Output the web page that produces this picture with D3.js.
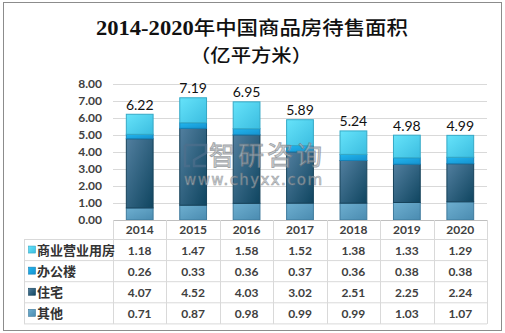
<!DOCTYPE html>
<html><head><meta charset="utf-8">
<script src="https://cdn.jsdelivr.net/npm/d3@7"></script>
<style>
html,body{margin:0;padding:0;background:#fff;}
svg{display:block;}
</style></head>
<body>
<svg id="c" width="505" height="333"></svg>
<script>
const years = ["2014","2015","2016","2017","2018","2019","2020"];
const seriesNames = ["商业营业用房","办公楼","住宅","其他"];
const commercial = [1.18,1.47,1.58,1.52,1.38,1.33,1.29];
const office     = [0.26,0.33,0.36,0.37,0.36,0.38,0.38];
const housing    = [4.07,4.52,4.03,3.02,2.51,2.25,2.24];
const other      = [0.71,0.87,0.98,0.99,0.99,1.03,1.07];
const totals     = [6.22,7.19,6.95,5.89,5.24,4.98,4.99];
const yTicks     = [0,1,2,3,4,5,6,7,8];
const title1a = "2014-2020";
const title1b = "年中国商品房待售面积";
const title2 = "（亿平方米）";

const seriesVals = {"商业营业用房":commercial,"办公楼":office,"住宅":housing,"其他":other};
const stackKeys = ["其他","住宅","办公楼","商业营业用房"];
const colors = {
  "商业营业用房": ["#66e3fa","#3bbde0","#35a9c6"],
  "办公楼": ["#22b6ee","#1592cf","#1482b8"],
  "住宅": ["#527f9f","#0f4560","#16425a"],
  "其他": ["#6eafd0","#4a8bb0","#3f7a9c"]
};
const keyId = {"商业营业用房":"g0","办公楼":"g1","住宅":"g2","其他":"g3"};

const svg = d3.select("#c");
const W = 505, H = 333;
svg.append("rect").attr("x",0).attr("y",0).attr("width",W).attr("height",H).attr("fill","#fff");
svg.append("rect").attr("x",3.5).attr("y",2.5).attr("width",498).attr("height",328)
  .attr("fill","#fff").attr("stroke","#8c8c8c").attr("stroke-width",1);

const defs = svg.append("defs");
seriesNames.forEach(k=>{
  const g = defs.append("linearGradient").attr("id",keyId[k])
    .attr("x1","0").attr("y1","0").attr("x2","1").attr("y2","1");
  g.append("stop").attr("offset","0%").attr("stop-color",colors[k][0]);
  g.append("stop").attr("offset","100%").attr("stop-color",colors[k][1]);
});

// Title
const t1 = svg.append("text").attr("x",252).attr("y",35).attr("text-anchor","middle")
  .attr("font-size",19).attr("fill","#111")
  .attr("textLength",312).attr("lengthAdjust","spacingAndGlyphs");
t1.append("tspan").attr("font-family","'Liberation Serif',serif").attr("font-weight","bold").attr("font-size",20).text(title1a);
t1.append("tspan").attr("font-family","'Noto Sans CJK SC',sans-serif").attr("font-weight","500").text(title1b);
svg.append("text").attr("x",251).attr("y",62).attr("text-anchor","middle")
  .attr("font-family","'Noto Sans CJK SC',sans-serif")
  .attr("font-size",18).attr("font-weight","500").attr("fill","#111")
  .attr("textLength",122).attr("lengthAdjust","spacingAndGlyphs")
  .text(title2);

const x0 = 113, x1 = 487;
const x = d3.scaleBand().domain(years).range([x0,x1]).paddingInner(0.48).paddingOuter(0.24);
const xc = d3.scaleBand().domain(years).range([x0,x1]).padding(0);
const y = d3.scaleLinear().domain([0,8]).range([220,84]);

// gridlines
const grid = svg.append("g").attr("transform",`translate(${x0},0)`)
  .call(d3.axisLeft(y).tickValues(yTicks).tickSize(-(x1-x0)).tickFormat(""));
grid.select(".domain").remove();
grid.selectAll("line").attr("stroke","#d9d9d9").attr("stroke-width",1);

// y axis labels
const ya = svg.append("g").attr("transform",`translate(${x0},0)`)
  .call(d3.axisLeft(y).tickValues(yTicks).tickSize(0).tickPadding(11).tickFormat(d3.format(".2f")));
ya.select(".domain").remove();
ya.selectAll("text").attr("font-family","Lato,'Liberation Sans',sans-serif")
  .attr("font-size",12).attr("font-weight","bold").attr("fill","#404040");

// stacked bars
const rows = years.map((yr,i)=>{const o={year:yr}; seriesNames.forEach(k=>o[k]=seriesVals[k][i]); return o;});
const stack = d3.stack().keys(stackKeys)(rows);
svg.append("g").selectAll("g").data(stack).join("g")
  .attr("fill",d=>`url(#${keyId[d.key]})`)
  .attr("stroke",d=>colors[d.key][2]).attr("stroke-width",1)
  .selectAll("rect").data(d=>d).join("rect")
  .attr("x",d=>x(d.data.year)+0.5).attr("width",x.bandwidth()-1)
  .attr("y",d=>y(d[1])).attr("height",d=>y(d[0])-y(d[1]));

// Watermark
const wm = svg.append("g").attr("opacity",0.7);
const lg = wm.append("g").attr("fill","none").attr("stroke","#4f6f8c").attr("stroke-width",2.5);
lg.append("path").attr("d","M185,145 L206,145 L206,153 L194,160 L194,166 L206,166 M185,145 L185,166 L190,166");
wm.append("text").attr("x",209).attr("y",165).attr("font-family","'Noto Sans CJK SC',sans-serif")
  .attr("font-size",26).attr("fill","#b8bcc0").attr("stroke","#777c82").attr("stroke-width",0.8)
  .attr("textLength",113).text("智研咨询");
wm.append("text").attr("x",184).attr("y",185).attr("font-family","'DejaVu Sans',sans-serif")
  .attr("font-size",15).attr("fill","#b8bcc0").attr("stroke","#777c82").attr("stroke-width",0.6)
  .attr("textLength",138).text("www.chyxx.com");

// Total labels
svg.append("g").selectAll("text").data(years).join("text")
  .attr("x",d=>x(d)+x.bandwidth()/2)
  .attr("y",(d,i)=>y(commercial[i]+office[i]+housing[i]+other[i])-4.5)
  .attr("text-anchor","middle").attr("font-family","Lato,'Liberation Sans',sans-serif")
  .attr("font-size",14).attr("fill","#111")
  .text((d,i)=>totals[i].toFixed(2));

// Data table
const tTop = 220, hdrBot = 239.5, rowH = 21.1, tLeft = 24;
const tBot = hdrBot + rowH*4;
const tl = svg.append("g").attr("stroke","#d9d9d9").attr("stroke-width",1);
tl.append("line").attr("x1",x0).attr("x2",x1).attr("y1",tTop+0.5).attr("y2",tTop+0.5).attr("stroke","#bfbfbf");
for(let r=0;r<=4;r++){
  const yy = hdrBot + r*rowH;
  tl.append("line").attr("x1",tLeft).attr("x2",x1).attr("y1",yy).attr("y2",yy);
}
tl.append("line").attr("x1",tLeft+0.5).attr("x2",tLeft+0.5).attr("y1",hdrBot).attr("y2",tBot);
years.forEach(yr=>{
  const xx = Math.round(xc(yr))+0.5;
  tl.append("line").attr("x1",xx).attr("x2",xx).attr("y1",tTop).attr("y2",tBot);
});
tl.append("line").attr("x1",x1+0.5).attr("x2",x1+0.5).attr("y1",tTop).attr("y2",tBot);

// header
svg.append("g").selectAll("text").data(years).join("text")
  .attr("x",d=>xc(d)+xc.bandwidth()/2).attr("y",234)
  .attr("text-anchor","middle").attr("font-family","Lato,'Liberation Sans',sans-serif")
  .attr("font-size",12).attr("font-weight","bold").attr("fill","#404040").text(d=>d);

seriesNames.forEach((k,r)=>{
  const cy = hdrBot + r*rowH + rowH/2;
  svg.append("rect").attr("x",28.5).attr("y",cy-4).attr("width",7).attr("height",7)
    .attr("fill",`url(#${keyId[k]})`).attr("stroke",colors[k][2]).attr("stroke-width",0.6);
  svg.append("text").attr("x",37).attr("y",cy+5).attr("font-family","'Noto Sans CJK SC',sans-serif")
    .attr("font-size",13).attr("font-weight","bold").attr("fill","#333").text(k);
  svg.append("g").selectAll("text").data(years).join("text")
    .attr("x",d=>xc(d)+xc.bandwidth()/2).attr("y",cy+4.5)
    .attr("text-anchor","middle").attr("font-family","Lato,'Liberation Sans',sans-serif")
    .attr("font-size",12).attr("font-weight","bold").attr("fill","#404040")
    .text((d,i)=>seriesVals[k][i].toFixed(2));
});
</script>
</body></html>
